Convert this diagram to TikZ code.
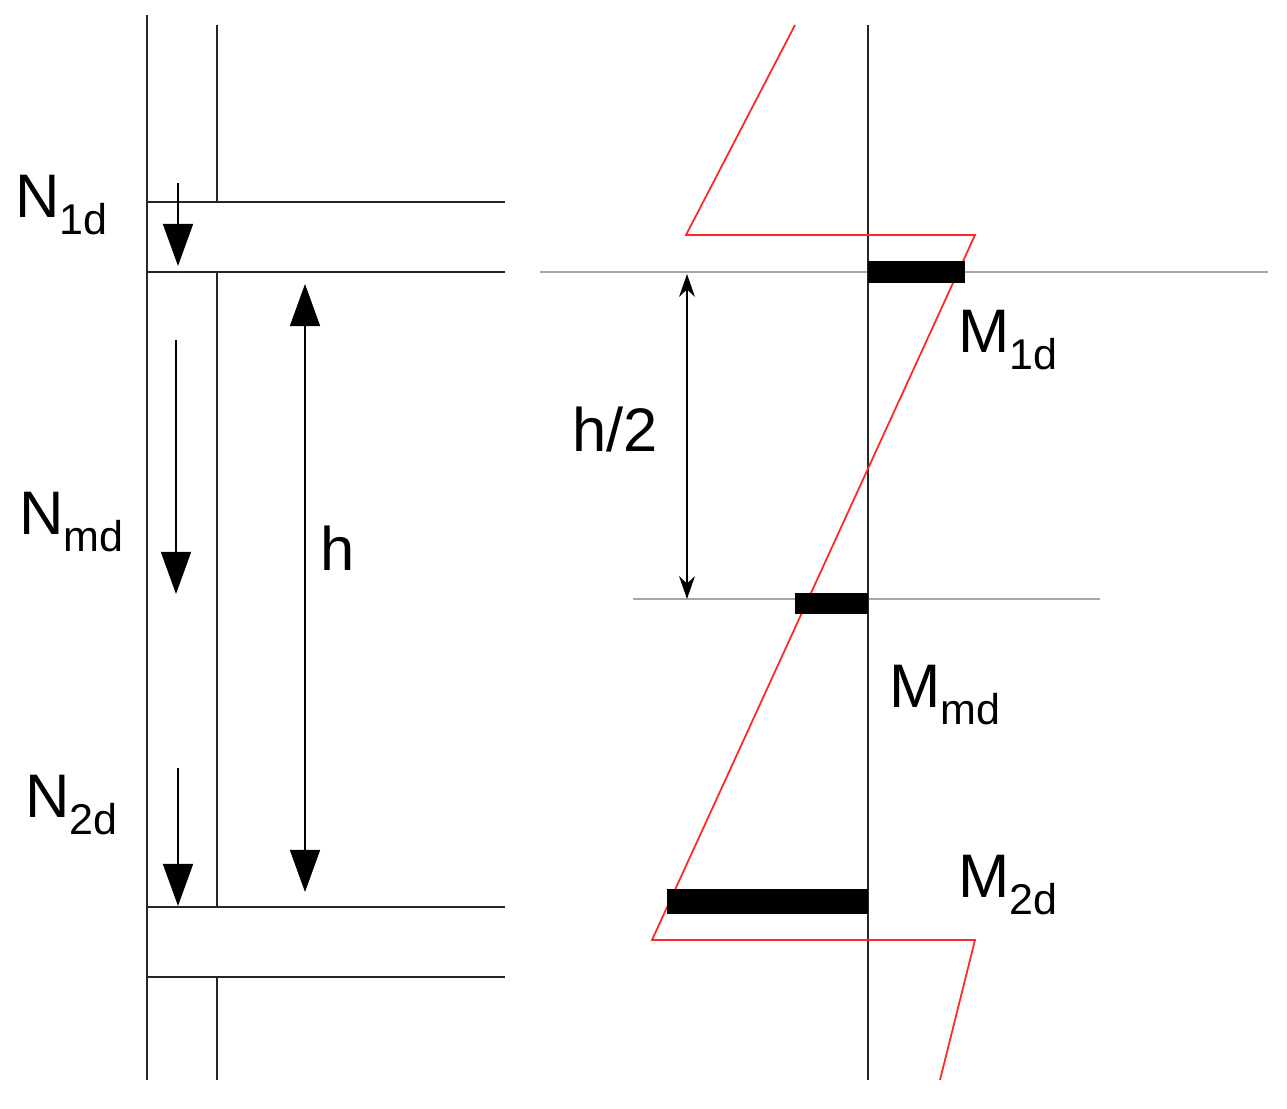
\documentclass[tikz,border=0pt]{standalone}
\usepackage{fontspec}
\setmainfont{Liberation Sans}
\usetikzlibrary{arrows.meta}
\begin{document}
\begin{tikzpicture}[x=0.02cm,y=-0.02cm,
  ln/.style={line width=1.4pt,draw=black!85},
  gl/.style={line width=1.2pt,draw=black!35},
  big/.style={line width=1.4pt,draw=black,-{Triangle[width=17pt,length=24pt]}},
  bigb/.style={line width=1.4pt,draw=black,{Triangle[width=17pt,length=24pt]}-{Triangle[width=17pt,length=24pt]}},
  sm/.style={line width=0.9pt,{Stealth[width=9pt,length=13pt]}-{Stealth[width=9pt,length=13pt]}},
  bar/.style={fill=black},
  lab/.style={font=\fontsize{35}{37}\selectfont}]
\useasboundingbox (0,0) rectangle (1287,1108);
% left column and beams
\coordinate (c1t) at (147,15); \coordinate (c1b) at (147,1080);
\draw[ln] (c1t) -- (c1b);
\coordinate (c2a) at (217,25); \coordinate (c2b) at (217,202);
\coordinate (c2c) at (217,272); \coordinate (c2d) at (217,907);
\coordinate (c2e) at (217,977); \coordinate (c2f) at (217,1080);
\draw[ln] (c2a)--(c2b) (c2c)--(c2d) (c2e)--(c2f);
\foreach \y in {202,272,907,977} \draw[ln] (147,\y) -- (505,\y);
% arrows
\coordinate (a1) at (178,183); \coordinate (a1e) at (178,266);
\draw[big] (a1) -- (a1e);
\coordinate (a2) at (176,340); \coordinate (a2e) at (176,594);
\draw[big] (a2) -- (a2e);
\coordinate (a3) at (178,768); \coordinate (a3e) at (178,906);
\draw[big] (a3) -- (a3e);
\coordinate (h1) at (305,284); \coordinate (h2) at (305,892);
\draw[bigb] (h1) -- (h2);
\node[lab] (n1) at (62,205) {N\textsubscript{1d}};
\node[lab] (nm) at (72,522) {N\textsubscript{md}};
\node[lab] (n2) at (72,805) {N\textsubscript{2d}};
\node[lab] (hl) at (338,548) {h};
% right
\draw[gl] (540,272) -- (1268,272);
\draw[gl] (633,599) -- (1100,599);
\draw[ln] (868,25) -- (868,1080);
\coordinate (hh1) at (687,274); \coordinate (hh2) at (687,599);
\draw[sm] (hh1) -- (hh2);
\node[lab] (h2l) at (615,430) {h/2};
\draw[red!85,line width=1pt,line join=miter] (795,25) -- (686,235) -- (975,235) -- (652,940) -- (975,940) -- (940,1080);
\fill[bar] (868,261) rectangle (965,283);
\fill[bar] (795,593) rectangle (868,614);
\fill[bar] (667,889) rectangle (868,914);
\node[lab] (m1) at (1008,340) {M\textsubscript{1d}};
\node[lab] (mm) at (945,695) {M\textsubscript{md}};
\node[lab] (m2) at (1008,885) {M\textsubscript{2d}};
\end{tikzpicture}
\end{document}
